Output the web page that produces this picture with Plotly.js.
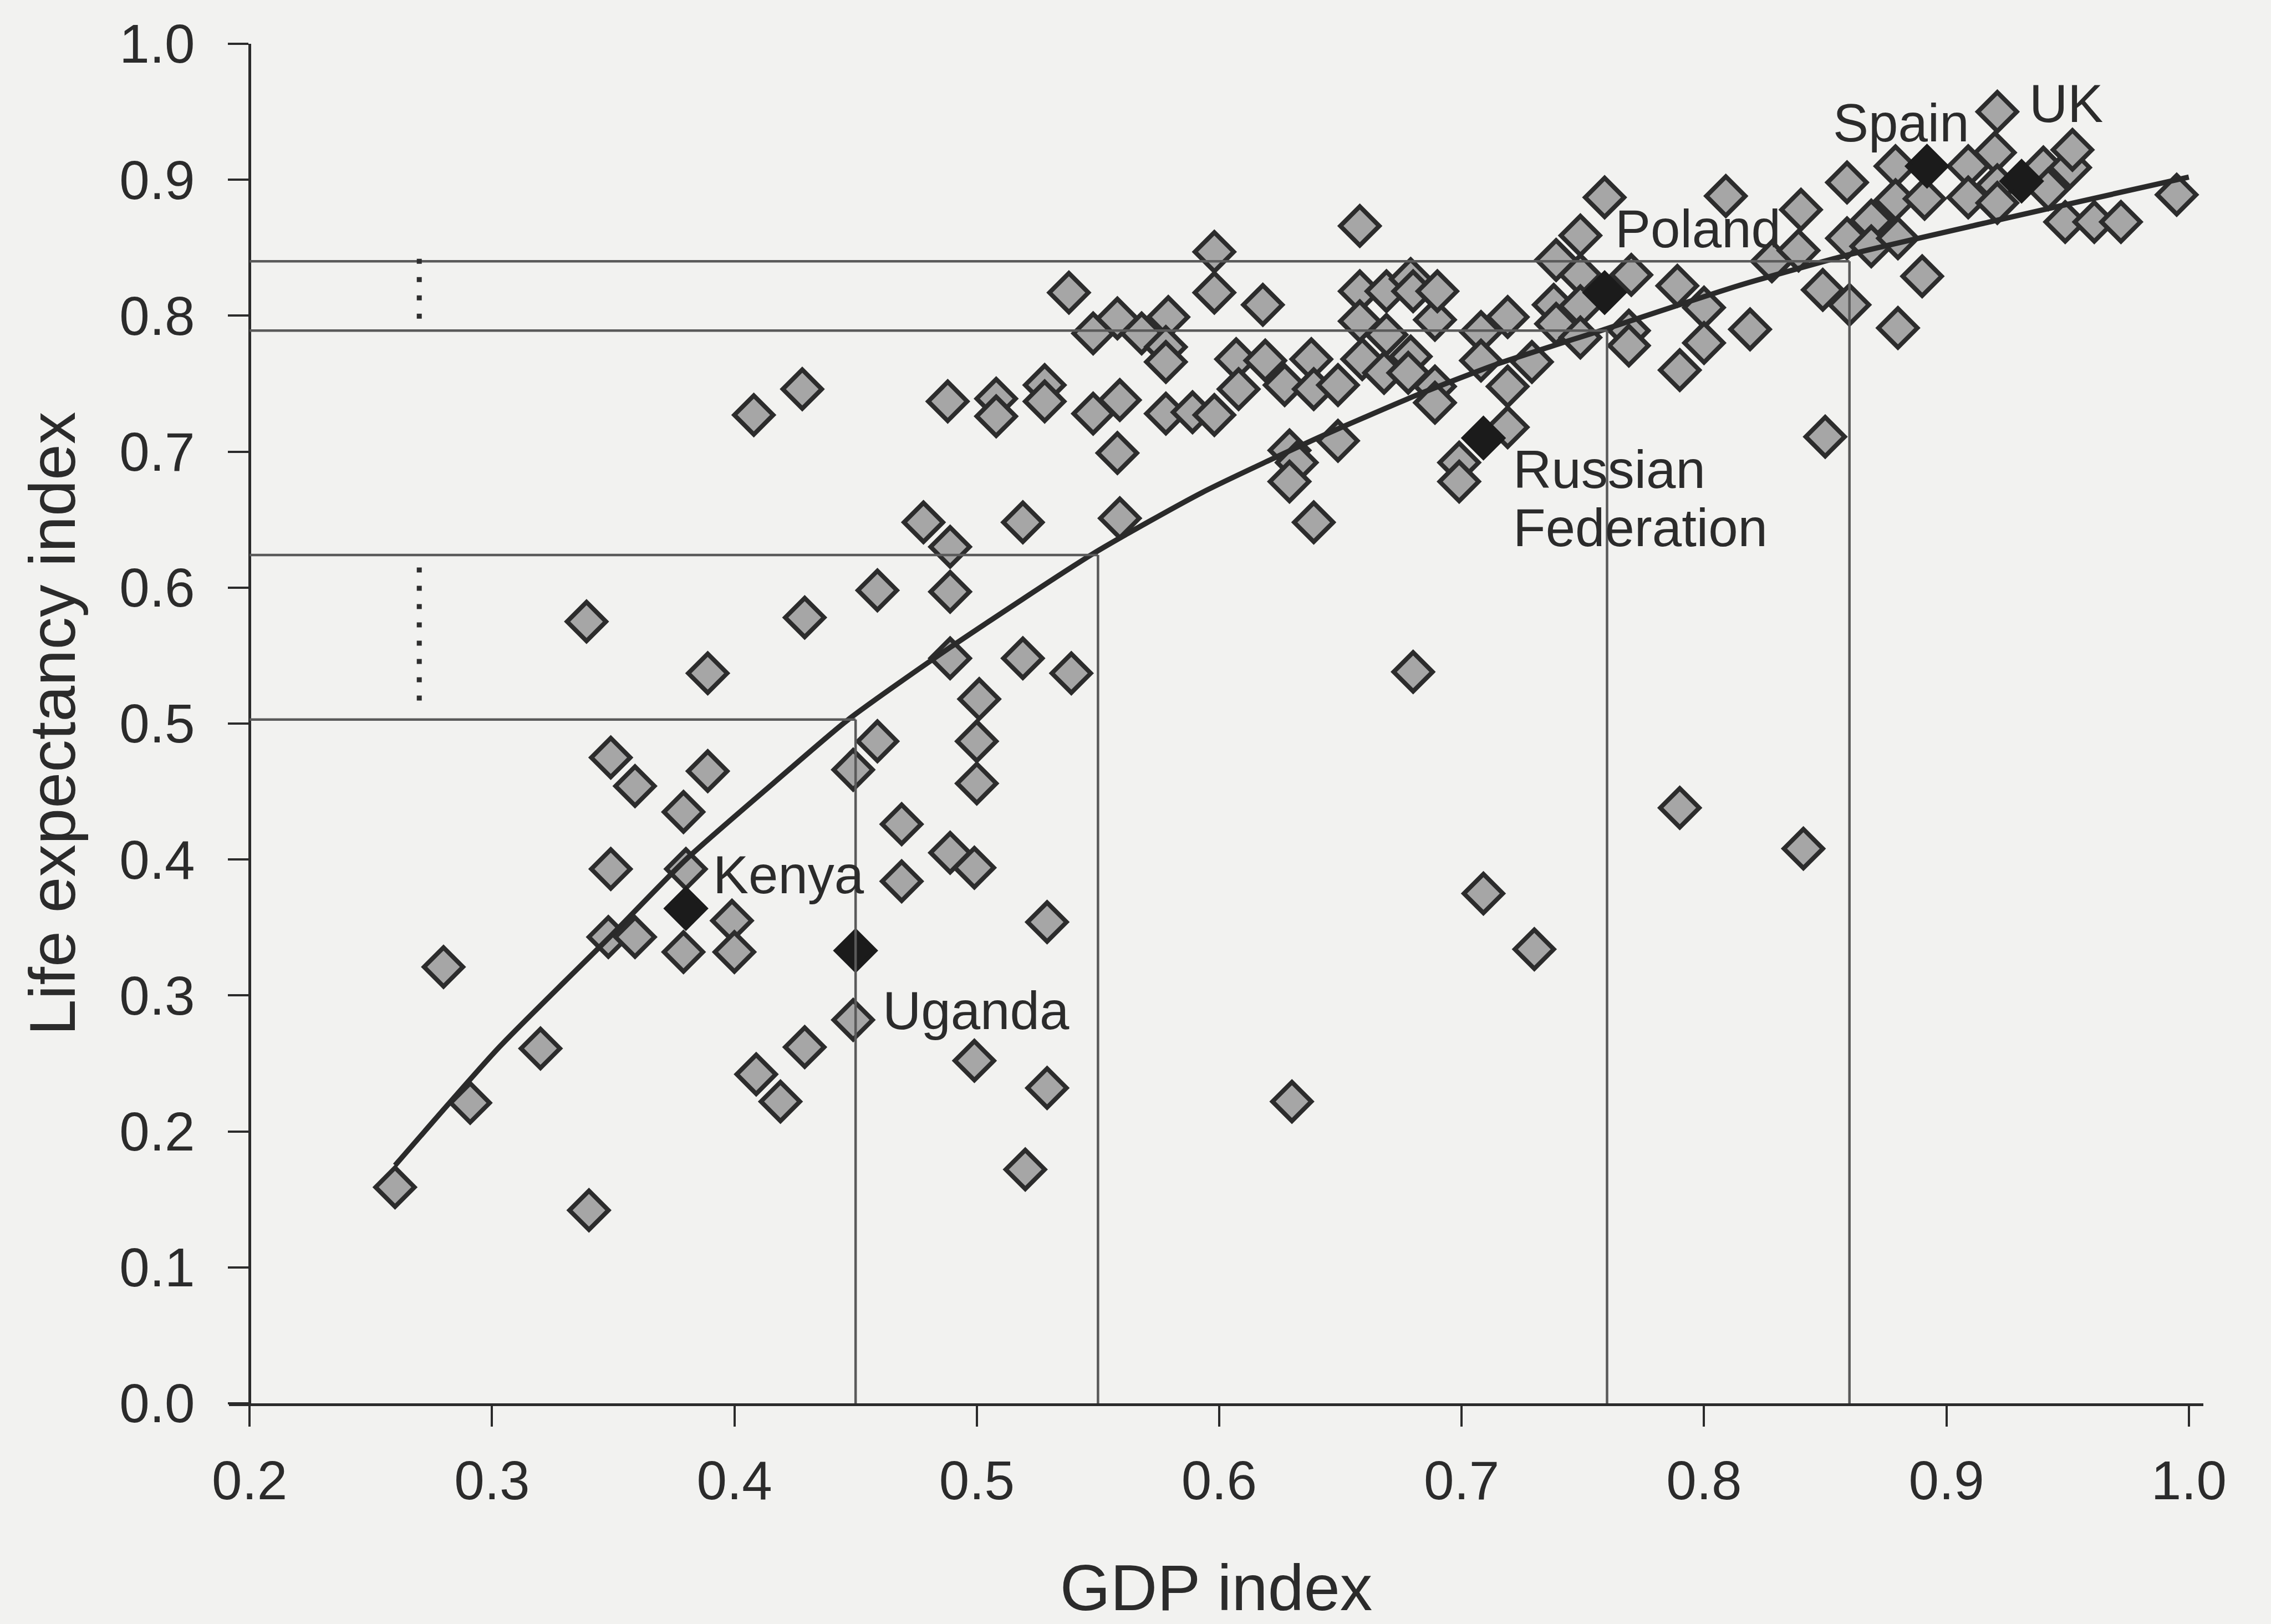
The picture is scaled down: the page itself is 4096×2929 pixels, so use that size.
<!DOCTYPE html>
<html>
<head>
<meta charset="utf-8">
<script src="https://cdn.plot.ly/plotly-3.0.1.min.js"></script>
<style>
  html, body { margin: 0; padding: 0; background: #f2f2f0; }
  #chart { width: 4096px; height: 2929px; }
</style>
</head>
<body>
<div id="chart"></div>
<script>
// GDP index and life expectancy index, one pair per country
const gdpIndex = [
  0.260,0.280,0.291,0.320,0.339,0.340,0.349,0.349,0.348,0.359,
  0.359,0.379,0.380,0.379,0.389,0.389,0.399,0.400,0.408,0.409,
  0.428,0.419,0.429,0.429,0.449,0.449,0.459,0.459,0.469,0.469,
  0.478,0.488,0.489,0.489,0.489,0.489,0.501,0.500,0.500,0.499,
  0.508,0.508,0.499,0.519,0.519,0.528,0.528,0.520,0.529,0.538,
  0.529,0.539,0.548,0.548,0.559,0.558,0.559,0.558,0.568,0.579,
  0.578,0.578,0.578,0.589,0.598,0.598,0.598,0.607,0.608,0.618,
  0.619,0.627,0.629,0.632,0.629,0.630,0.638,0.639,0.639,0.649,
  0.649,0.658,0.658,0.658,0.659,0.669,0.669,0.668,0.679,0.680,
  0.679,0.678,0.689,0.690,0.689,0.689,0.680,0.699,0.699,0.708,
  0.708,0.709,0.719,0.719,0.719,0.729,0.730,0.738,0.739,0.739,
  0.749,0.749,0.749,0.749,0.759,0.770,0.769,0.769,0.789,0.790,
  0.790,0.800,0.800,0.809,0.819,0.828,0.839,0.840,0.841,0.849,
  0.850,0.859,0.859,0.860,0.869,0.869,0.879,0.879,0.880,0.880,
  0.890,0.891,0.909,0.909,0.920,0.921,0.921,0.921,0.940,0.942,
  0.951,0.952,0.949,0.961,0.972,0.995
];
const lifeIndex = [
  0.159,0.321,0.221,0.261,0.575,0.142,0.475,0.393,0.343,0.454,
  0.343,0.435,0.393,0.332,0.537,0.465,0.355,0.332,0.727,0.242,
  0.746,0.222,0.578,0.262,0.466,0.282,0.598,0.487,0.426,0.384,
  0.648,0.737,0.630,0.597,0.548,0.405,0.518,0.487,0.456,0.394,
  0.739,0.726,0.252,0.648,0.548,0.749,0.737,0.172,0.354,0.817,
  0.232,0.537,0.787,0.728,0.738,0.699,0.651,0.798,0.787,0.799,
  0.777,0.766,0.728,0.729,0.727,0.847,0.817,0.768,0.746,0.808,
  0.767,0.749,0.701,0.692,0.678,0.222,0.768,0.746,0.648,0.749,
  0.708,0.866,0.818,0.796,0.768,0.818,0.786,0.758,0.827,0.818,
  0.770,0.758,0.797,0.818,0.748,0.736,0.538,0.692,0.678,0.788,
  0.767,0.375,0.799,0.748,0.718,0.766,0.334,0.808,0.841,0.794,
  0.859,0.830,0.807,0.784,0.887,0.830,0.789,0.778,0.822,0.760,
  0.438,0.806,0.780,0.888,0.790,0.840,0.848,0.878,0.408,0.819,
  0.711,0.898,0.857,0.808,0.870,0.851,0.910,0.885,0.857,0.791,
  0.829,0.886,0.910,0.887,0.920,0.950,0.896,0.883,0.909,0.893,
  0.909,0.922,0.869,0.869,0.869,0.889
];

// Countries picked out in the discussion
const namedCountries = ['Kenya', 'Uganda', 'Russian Federation', 'Poland', 'Spain', 'UK'];
const namedGdp  = [0.380, 0.450, 0.709, 0.759, 0.892, 0.931];
const namedLife = [0.364, 0.333, 0.710, 0.817, 0.910, 0.899];

// Fitted relationship between the two indices
const fitGdp  = [0.260, 0.303, 0.348, 0.380, 0.416, 0.447, 0.489, 0.548, 0.593,
                 0.643, 0.682, 0.714, 0.759, 0.814, 0.860, 0.918, 0.970, 1.000];
const fitLife = [0.175, 0.262, 0.342, 0.400, 0.456, 0.503, 0.556, 0.625, 0.670,
                 0.712, 0.742, 0.764, 0.790, 0.822, 0.845, 0.869, 0.890, 0.902];

// Two equal GDP steps of 0.1 and the life expectancy reached at each end
const stepGdp  = [0.45, 0.55, 0.76, 0.86];
const stepLife = [0.503, 0.624, 0.789, 0.840];

// Tick labels
const xTicks = [0.2, 0.3, 0.4, 0.5, 0.6, 0.7, 0.8, 0.9, 1.0];
const yTicks = [0.0, 0.1, 0.2, 0.3, 0.4, 0.5, 0.6, 0.7, 0.8, 0.9, 1.0];

const INK = '#2b2b2b';
const X_MIN = 0.1915, X_MAX = 1.006;
const Y_PX = 2452;              // plot height in px, used to size the dotted brackets
const FONT = 'Liberation Sans, Arial, Helvetica, sans-serif';

const countries = {
  x: gdpIndex, y: lifeIndex, type: 'scatter', mode: 'markers',
  cliponaxis: false, hoverinfo: 'x+y',
  marker: { symbol: 'diamond', size: 54, color: '#a6a6a6',
            line: { color: '#2c2c2c', width: 8 } }
};
const highlighted = {
  x: namedGdp, y: namedLife, text: namedCountries, type: 'scatter', mode: 'markers',
  cliponaxis: false, hoverinfo: 'text+x+y',
  marker: { symbol: 'diamond', size: 54, color: '#1b1b1b',
            line: { color: '#1b1b1b', width: 8 } }
};
const fitted = {
  x: fitGdp, y: fitLife, type: 'scatter', mode: 'lines', hoverinfo: 'skip',
  line: { color: '#2a2a2a', width: 9.5, shape: 'spline', smoothing: 0.6 }
};

// Guide lines: vertical from the axis up to the curve, horizontal back to the y axis
const GUIDE = { color: '#5a5a5a', width: 4.5 };
const shapes = [];
stepGdp.forEach((g, i) => {
  const l = stepLife[i];
  shapes.push({ type: 'line', xref: 'x', yref: 'y', x0: g, x1: g, y0: 0, y1: l, line: GUIDE });
  shapes.push({ type: 'line', xref: 'x', yref: 'y', x0: 0.2, x1: g, y0: l, y1: l, line: GUIDE });
});

// Dotted brackets marking each life expectancy gain
const dot = 9, gap = 24, half = dot / 2 / Y_PX;
function bracket(top, count) {
  const len = ((count - 1) * (dot + gap) + dot) / Y_PX;
  return { type: 'line', xref: 'x', yref: 'y', x0: 0.27, x1: 0.27,
           y0: top + half, y1: top + half - len,
           line: { color: '#2e2e2e', width: dot, dash: dot + 'px,' + gap + 'px' } };
}
shapes.push(bracket(stepLife[3], 4));
shapes.push(bracket(0.613, 8));

const labelFont = { family: FONT, size: 96, color: INK };
function label(text, x, y) {
  return { text: text, x: x, y: y, xref: 'x', yref: 'y', xanchor: 'left',
           yanchor: 'middle', showarrow: false, font: labelFont, borderpad: 0 };
}
const annotations = [
  label('Kenya', 0.391, 0.389),
  label('Uganda', 0.461, 0.289),
  label('Russian', 0.721, 0.687),
  label('Federation', 0.721, 0.644),
  label('Poland', 0.763, 0.864),
  label('Spain', 0.853, 0.942),
  label('UK', 0.934, 0.956)
];

const axisCommon = {
  tickmode: 'array', tickformat: '.1f',
  showline: true, linecolor: INK, linewidth: 4.5,
  ticks: 'outside', ticklen: 37, tickwidth: 4, tickcolor: INK,
  tickfont: { family: FONT, size: 98, color: INK },
  showgrid: false, zeroline: false, automargin: true
};

const layout = {
  width: 4096, height: 2929,
  paper_bgcolor: '#f2f2f0', plot_bgcolor: '#f2f2f0',
  margin: { l: 413, r: 122, t: 79, b: 398, pad: 0, autoexpand: false },
  font: { family: FONT, color: INK },
  showlegend: false,
  xaxis: Object.assign({}, axisCommon, {
    range: [X_MIN, X_MAX], tickvals: xTicks, ticklabelstandoff: 14,
    title: { text: 'GDP index', font: { family: FONT, size: 117, color: INK }, standoff: 172 }
  }),
  yaxis: Object.assign({}, axisCommon, {
    range: [0, 1.0], tickvals: yTicks, ticklabelstandoff: 40,
    anchor: 'free', position: (0.2 - X_MIN) / (X_MAX - X_MIN),
    title: { text: 'Life expectancy index', font: { family: FONT, size: 117, color: INK }, standoff: 39 }
  }),
  shapes: shapes,
  annotations: annotations
};

Plotly.newPlot('chart', [countries, highlighted, fitted], layout,
               { staticPlot: true, displayModeBar: false });
</script>
</body>
</html>
